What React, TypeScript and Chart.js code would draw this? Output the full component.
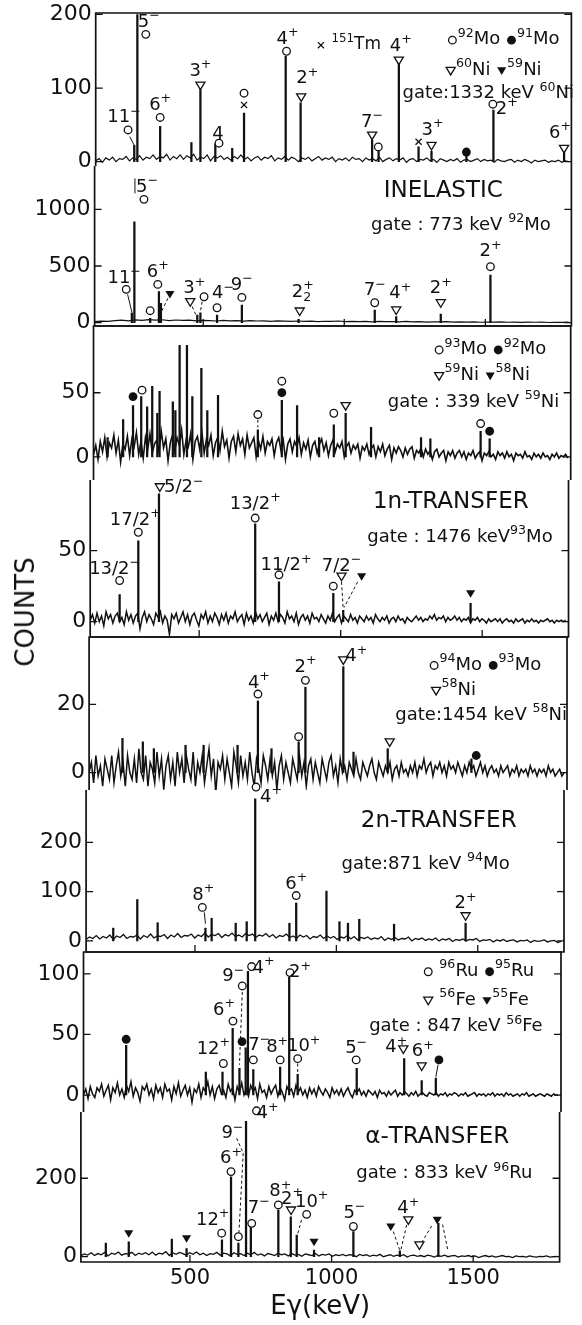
import React, { useEffect, useRef } from "react";
import { Chart, registerables } from "chart.js";

Chart.register(...registerables);

if (typeof document !== "undefined") document.body.style.margin = "0";

const FONT = '"DejaVu Sans", "Liberation Sans", sans-serif';
const INK = "#111";

// ---- energy axis -------------------------------------------------------
const E_MIN = 115;
const E_MAX = 1805;
const X_TICKS = [500, 1000, 1500];
const NOISE_E0 = 115;
const FINE_STEP = 8;
const MID_STEP = 12;
const COARSE_STEP = 24;

// ---- panel 1 : inelastic, gate 1332 keV 60Ni -----------------------------
const P1_Y_TICKS = [0, 100, 200];
const P1_NOISE = [1, 4, -1, 5, 2, 6, 0, 4, 3, 7, 1, 5, 3, 8, 2, 6, 4, 9, 3, 7, 5, 10, 2, 7, 4, 9, 3, 8, 5, 10, 2, 6, 4, 9, 1, 7, 5, 8, 3, 6, 2, 7, 4, 9, 3, 6, 1, 5, 7, 2, 6, 4, 8, 1, 5, 3, 7, 2, 6, 4, 0, 5, 3, 6, 1, 4, 7, 2, 5, 3, 6, 0, 4, 2, 5, 1, 6, 3, 4, 0, 5, 2, 4, 1, 6, 0, 3, 5, 1, 4, 2, 5, -1, 3, 4, 0, 3, 2, 5, 1, 3, -1, 4, 2, 0, 3, 1, 4, -1, 2, 3, 0, 2, 4, 0, 3, 1, 2, -1, 3, 1, 0, 2, 3, -1, 2, 0, 3, 1, -2, 2, 0, 1, 2, -1, 1, 0, 2, -1, 1, 0];
const P1_PEAK_E = [252, 263, 344, 455, 487, 540, 600, 642, 790, 843, 1097, 1120, 1192, 1262, 1308, 1432, 1528, 1779];
const P1_PEAK_H = [22, 200, 48, 26, 98, 24, 18, 66, 143, 80, 29, 16, 134, 20, 14, 10, 70, 12];

// ---- panel 2 : inelastic, gate 773 keV 92Mo ------------------------------
const P2_Y_TICKS = [0, 500, 1000];
const P2_NOISE = [10, 14, 12, 18, 22, 16, 25, 20, 28, 22, 26, 18, 24, 20, 23, 17, 21, 19, 15, 20, 16, 19, 14, 18, 15, 17, 12, 16, 14, 11, 15, 12, 14, 10, 13, 11, 15, 9, 12, 10, 11, 8, 12, 9, 10, 7, 11, 8, 9, 6, 8, 7, 9, 5, 8, 6, 7, 4, 6, 5, 7, 4, 6, 3, 5, 4, 6, 2, 4, 3, 5];
const P2_PEAK_E = [247, 256, 312, 343, 350, 479, 490, 549, 637, 838, 1108, 1184, 1342, 1518];
const P2_PEAK_H = [87, 890, 38, 274, 171, 68, 87, 68, 156, 30, 112, 53, 77, 421];

// ---- panel 3 : 1n-transfer, gate 339 keV 59Ni ----------------------------
const P3_Y_TICKS = [0, 50];
const P3_NOISE = [2, 9, -2, 12, 4, 15, 0, 11, 7, 17, 3, 13, -4, 10, 6, 16, 1, 14, 8, 19, 2, 12, -1, 15, 6, 18, 3, 10, 13, 4, 20, 7, 14, -3, 11, 17, 5, 15, 9, 21, 2, 13, 8, 18, -2, 12, 16, 6, 19, 3, 14, 9, 17, 1, 11, 15, 5, 20, 8, 13, -1, 12, 16, 4, 18, 9, 14, 2, 17, 7, 11, 15, 0, 13, 6, 16, 3, 12, 9, 14, 1, 11, 15, 5, 13, -2, 10, 14, 4, 12, 8, 15, 2, 11, 6, 13, 0, 9, 12, 3, 10, 14, 5, 11, 1, 9, 13, 4, 10, 7, 12, 0, 8, 11, 3, 9, 6, 10, -1, 8, 5, 10, 2, 7, 9, 0, 8, 4, 10, 1, 6, 9, -2, 7, 3, 8, 5, 0, 7, 2, 6, 8, -1, 5, 3, 7, 0, 6, 2, 5, -2, 4, 6, 0, 3, 5, -3, 4, 1, 5, -1, 3, 5, 0, 4, -2, 3, 1, 5, -1, 2, 4, -3, 3, 1, 4, 0, 2, -2, 4, 1, 3, -1, 4, 0, 2, -3, 3, 1, 2, -1, 4, 0, 1, -2, 3, 0, 2, -1, 3, 0, 1, -2, 2, 0, 3, -1, 1, 0, 2, -1];
const P3_PEAK_E = [165, 220, 255, 284, 305, 323, 341, 349, 396, 405, 420, 446, 465, 497, 518, 556, 697, 782, 836, 914, 966, 1008, 1098, 1275, 1308, 1486, 1518];
const P3_PEAK_H = [15, 29, 40, 47, 39, 55, 34, 51, 43, 36, 87, 87, 47, 69, 36, 48, 21, 44, 40, 15, 25, 34, 23, 15, 14, 20, 14];

// ---- panel 4 : 1n-transfer, gate 1476 keV 93Mo ---------------------------
const P4_Y_TICKS = [0, 50];
const P4_NOISE = [1, 5, -1, 6, 0, 4, -3, 7, 2, 5, -1, 4, 6, 0, 3, -2, 7, 1, 5, -1, 4, 6, -5, 3, 7, 0, 5, 2, -2, 6, 3, 7, -1, 4, 1, -9, 5, 2, 6, -1, 3, 7, 0, 5, -2, 4, 6, 1, -3, 5, 2, 7, -1, 4, 0, 6, 3, -2, 5, 1, 6, -1, 4, 2, 7, 0, 3, 5, -2, 6, 1, 4, -1, 7, 2, 5, 0, 3, 6, -2, 4, 1, 6, 0, 5, 3, -1, 7, 2, 4, 0, 6, -2, 3, 5, 1, 4, -1, 6, 2, 3, 0, 5, 2, -1, 4, 1, 6, 0, 3, 5, -1, 4, 2, 0, 5, 1, 3, -1, 4, 2, 0, 4, 1, 3, -1, 5, 2, 0, 3, 1, 4, -1, 2, 3, 0, 4, 1, 2, -1, 3, 1, 0, 2, 4, 1, 3, 0, 2, 1, 4, 2, 5, 1, 3, 2, 4, 0, 3, 1, 2, 4, 1, 3, 0, 2, 1, 3, -1, 2, 1, 3, 0, 2, 1, -1, 2, 0, 1, 2, 0, 2, -1, 1, 2, 0, 1, -1, 2, 0, 1, 2, -1, 1, 0, 2, 0, 1, -1, 1, 0, 1, 2, 0, 1, -1, 1, 0, 1, 0, 1];
const P4_PEAK_E = [219, 285, 358, 698, 782, 974, 1009, 1459];
const P4_PEAK_H = [19, 57, 90, 69, 28, 20, 8, 13];

// ---- panel 5 : 2n-transfer, gate 1454 keV 58Ni ---------------------------
const P5_Y_TICKS = [0, 20];
const P5_NOISE = [0, 3, -3, 5, -1, 2, -4, 4, 1, -2, 5, -3, 2, 6, -1, 3, -4, 5, 0, -2, 4, -3, 7, 0, -2, 5, -4, 3, 1, -3, 6, -1, 4, -5, 2, 5, -2, 3, -4, 6, 0, 4, -3, 5, 1, -2, 6, -4, 3, 0, 5, -3, 2, 7, -1, 4, -6, 3, 1, 5, -2, 4, 0, -4, 6, 2, -3, 5, -1, 3, -2, 6, 0, -4, 4, 1, -3, 5, 2, -2, 4, -1, 3, -5, 2, 5, -2, 3, 0, -3, 4, 1, -2, 5, -1, 3, -4, 2, 4, -2, 3, 0, -3, 4, 1, -2, 3, 5, -1, 2, -3, 4, 0, 2, -2, 3, 1, -1, 4, 0, -2, 3, 1, -1, 2, 4, 0, -2, 3, 1, -1, 2, 0, 3, -2, 1, 2, -1, 3, 0, 1, -1, 2, 0, 3, -1, 2, 1, 4, 0, 2, 3, -1, 2, 1, 3, 0, 2, -1, 3, 1, 2, 0, 3, 1, -1, 2, 0, 3, 1, 2, -1, 1, 3, 0, 2, -1, 1, 2, 0, 1, -1, 2, 0, 1, 2, -1, 1, 0, 2, -1, 1, 0, 1, -1, 2, 0, 1, -1, 1, 0, 1, -1, 2, 0, 1, -1, 0, 1, -1, 0];
const P5_PEAK_E = [233, 305, 344, 456, 520, 640, 712, 760, 856, 880, 1014, 1050, 1171, 1467];
const P5_PEAK_H = [10, 9, 7, 8, 8, 8, 21, 7, 9, 25, 31, 6, 7, 4];

// ---- panel 6 : 2n-transfer, gate 871 keV 94Mo ----------------------------
const P6_Y_TICKS = [0, 100, 200];
const P6_NOISE = [3, 8, 5, 11, 4, 9, 6, 12, 3, 10, 7, 13, 5, 9, 8, 12, 4, 11, 7, 14, 6, 10, 9, 13, 5, 12, 8, 15, 7, 11, 10, 14, 6, 12, 9, 16, 8, 13, 11, 15, 7, 13, 10, 16, 9, 12, 8, 15, 11, 14, 7, 12, 10, 15, 8, 13, 6, 11, 9, 14, 7, 10, 5, 12, 8, 11, 4, 9, 7, 12, 5, 10, 6, 9, 3, 8, 6, 11, 4, 9, 2, 7, 5, 8, 3, 6, 4, 9, 1, 6, 3, 7, 2, 5, 4, 8, 0, 5, 3, 6, 1, 4, 2, 6, 0, 4, 2, 5, -1, 3, 1, 4, 0, 3, 2, 5, -1, 2, 1, 3, -2, 2, 0, 3, -1, 1, 2, -2, 1, 0, 2, -3, 1, -1, 0, 2, -2, 0, 1, -3, -1];
const P6_PEAK_E = [211, 296, 368, 537, 559, 644, 683, 713, 834, 858, 965, 1011, 1041, 1081, 1204, 1457];
const P6_PEAK_H = [26, 84, 37, 26, 46, 36, 39, 288, 36, 77, 101, 39, 36, 44, 34, 36];

// ---- panel 7 : alpha-transfer, gate 847 keV 56Fe -------------------------
const P7_Y_TICKS = [0, 50, 100];
const P7_NOISE = [0, 5, -3, 7, 1, -2, 6, 3, 9, -1, 4, 8, -4, 6, 2, 10, 0, 5, -2, 8, 3, 11, -1, 6, 2, -5, 7, 4, 9, 0, 5, -3, 8, 2, 6, -2, 9, 3, 5, -4, 7, 1, 10, -1, 4, 8, 0, 6, -6, 5, 2, 9, -2, 6, 3, 11, 0, 7, -3, 5, 8, 1, 4, -2, 9, 3, 6, -4, 7, 2, 10, 0, 5, -1, 8, 3, 6, -3, 9, 2, 4, -2, 7, 1, 5, 8, -1, 6, 2, -4, 7, 3, 5, -1, 8, 2, 6, 0, 4, -2, 6, 1, 5, -1, 7, 3, 0, 5, 2, -2, 6, 1, 4, 0, 5, -1, 3, 6, 1, -2, 4, 2, 5, 0, 3, -1, 4, 2, 0, 3, -2, 4, 1, 2, -1, 3, 0, 2, 4, -1, 2, 0, 3, 1, -1, 2, 0, 3, -1, 1, 2, 0, -1, 2, 1, 0, 2, -1, 1, 0, 2, -1, 1, 0, 2, 1, -1, 1, 0, 2, -1, 0, 1, 2, -1, 1, 0, 1, -1, 1, 0, 2, -1, 1, 0, 1, -1, 2, 0, 1, -1, 0, 1, -1, 1, 0, 2, -1, 0, 1, -1, 0, 1, 0, -1, 1, 0, -1, 1, 0, 0];
const P7_PEAK_E = [266, 548, 607, 643, 667, 689, 697, 716, 811, 843, 873, 1082, 1250, 1312, 1362];
const P7_PEAK_H = [41, 19, 19, 55, 22, 39, 102, 21, 23, 97, 17, 22, 30, 12, 14];

// ---- panel 8 : alpha-transfer, gate 833 keV 96Ru -------------------------
const P8_Y_TICKS = [0, 200];
const P8_NOISE = [2, 7, 4, 10, 3, 8, 5, 11, 2, 9, 6, 12, 4, 8, 7, 11, 3, 9, 6, 10, 5, 12, 4, 9, 7, 13, 3, 10, 6, 11, 8, 4, 10, 6, 12, 5, 9, 3, 8, 6, 11, 4, 9, 7, 2, 10, 6, 8, 3, 9, 5, 11, 4, 7, 2, 8, 6, 3, 9, 5, 7, 2, 8, 4, 6, 1, 7, 5, 3, 8, 2, 6, 4, 7, 1, 5, 3, 6, 2, 5, 4, 0, 6, 3, 5, 1, 4, 2, 6, 0, 3, 5, 1, 4, 2, 5, -1, 3, 4, 1, 3, 0, 4, 2, -1, 3, 1, 4, 0, 2, 3, -1, 2, 1, 3, 0, 2, -2, 1, 3, 0, 2, -1, 1, 3, 0, 1, -2, 2, 0, 1, -1, 2, 0, -1, 1, 0, 2, -1, 0, 1];
const P8_PEAK_E = [203, 284, 436, 488, 613, 645, 671, 698, 715, 812, 856, 877, 938, 1077, 1241, 1377];
const P8_PEAK_H = [35, 38, 45, 21, 43, 204, 35, 345, 81, 119, 102, 55, 17, 64, 15, 85];

// ---- annotations (marker at energy/counts, label offset in px) -----------
const P1_MARKS = [
  { e: 230, v: 43, m: "○", t: "11^−", dx: -4, dy: -14 },
  { e: 293, v: 173, m: "○", t: "5^−", dx: 3, dy: -14 },
  { e: 344, v: 60, m: "○", t: "6^+", dx: 0, dy: -14 },
  { e: 487, v: 104, m: "▽", t: "3^+", dx: 0, dy: -16 },
  { e: 553, v: 25, m: "○", t: "4", dx: -1, dy: -11 },
  { e: 642, v: 93, m: "○" },
  { e: 642, v: 77, m: "×" },
  { e: 793, v: 150, m: "○", t: "4^+", dx: 1, dy: -14 },
  { e: 845, v: 88, m: "▽", t: "2^+", dx: 6, dy: -20 },
  { e: 1097, v: 36, m: "▽", t: "7^−", dx: 0, dy: -15 },
  { e: 1119, v: 20, m: "○" },
  { e: 1192, v: 138, m: "▽", t: "4^+", dx: 2, dy: -16 },
  { e: 1262, v: 27, m: "×" },
  { e: 1308, v: 22, m: "▽", t: "3^+", dx: 1, dy: -17 },
  { e: 1432, v: 13, m: "●" },
  { e: 1526, v: 78, m: "○", t: "2^+", dx: 14, dy: 3 },
  { e: 1779, v: 18, m: "▽", t: "6^+", dx: -4, dy: -17 },
];
const P1_LEADERS = [{ e1: 236, v1: 34, e2: 252, v2: 22 }];
const P1_TEXTS = [
  { e: 897, v: 161, t: "× ^{151}Tm", s: 17 },
  { e: 1363, v: 168, t: "○^{92}Mo ●^{91}Mo" },
  { e: 1357, v: 127, t: "▽^{60}Ni ▼^{59}Ni" },
  { e: 1205, v: 95, t: "gate:1332 keV ^{60}Ni" },
];

const P2_MARKS = [
  { e: 227, v: 294, m: "○", t: "11^−", dx: -2, dy: -13 },
  { e: 290, v: 1088, m: "○", t: "5^−", dx: 3, dy: -14 },
  { e: 312, v: 106, m: "○" },
  { e: 339, v: 338, m: "○", t: "6^+", dx: 0, dy: -14 },
  { e: 382, v: 253, m: "▼" },
  { e: 454, v: 185, m: "▽", t: "3^+", dx: 4, dy: -15 },
  { e: 503, v: 229, m: "○" },
  { e: 549, v: 132, m: "○", t: "4^−", dx: 6, dy: -16 },
  { e: 637, v: 223, m: "○", t: "9^−", dx: 0, dy: -14 },
  { e: 842, v: 103, m: "▽", t: "2^+_2", dx: 3, dy: -21 },
  { e: 1108, v: 176, m: "○", t: "7^−", dx: 0, dy: -14 },
  { e: 1184, v: 112, m: "▽", t: "4^+", dx: 4, dy: -18 },
  { e: 1342, v: 176, m: "▽", t: "2^+", dx: 0, dy: -16 },
  { e: 1518, v: 494, m: "○", t: "2^+", dx: 0, dy: -17 },
];
const P2_LEADERS = [
  { e1: 232, v1: 250, e2: 247, v2: 95 },
  { e1: 258, v1: 1141, e2: 258, v2: 1273 },
  { e1: 375, v1: 216, e2: 352, v2: 98, dash: true },
  { e1: 461, v1: 141, e2: 477, v2: 53, dash: true },
  { e1: 496, v1: 185, e2: 490, v2: 97, dash: true },
];
const P2_TEXTS = [
  { e: 1351, v: 1185, t: "INELASTIC", s: 23, a: "center" },
  { e: 1095, v: 876, t: "gate : 773 keV ^{92}Mo" },
];

const P3_MARKS = [
  { e: 255, v: 47, m: "●" },
  { e: 287, v: 52, m: "○" },
  { e: 697, v: 33, m: "○" },
  { e: 782, v: 59, m: "○" },
  { e: 782, v: 50, m: "●" },
  { e: 966, v: 34, m: "○" },
  { e: 1008, v: 40, m: "▽" },
  { e: 1486, v: 26, m: "○" },
  { e: 1518, v: 20, m: "●" },
];
const P3_LEADERS = [{ e1: 697, v1: 29, e2: 697, v2: 23, dash: true }];
const P3_TEXTS = [
  { e: 1320, v: 85, t: "○^{93}Mo ●^{92}Mo" },
  { e: 1320, v: 65, t: "▽^{59}Ni ▼^{58}Ni" },
  { e: 1157, v: 44, t: "gate : 339 keV ^{59}Ni" },
];

const P4_MARKS = [
  { e: 219, v: 29, m: "○", t: "13/2^−", dx: -5, dy: -13 },
  { e: 285, v: 63, m: "○", t: "17/2^+", dx: -3, dy: -14 },
  { e: 361, v: 95, m: "▽", t: "5/2^−", dx: 24, dy: -1 },
  { e: 698, v: 73, m: "○", t: "13/2^+", dx: 0, dy: -16 },
  { e: 782, v: 33, m: "○", t: "11/2^+", dx: 7, dy: -11 },
  { e: 974, v: 25, m: "○" },
  { e: 1003, v: 32, m: "▽", t: "7/2^−", dx: 0, dy: -12 },
  { e: 1074, v: 32, m: "▼" },
  { e: 1459, v: 20, m: "▼" },
];
const P4_LEADERS = [
  { e1: 1003, v1: 28, e2: 1009, v2: 9, dash: true },
  { e1: 1060, v1: 28, e2: 1012, v2: 10, dash: true },
];
const P4_TEXTS = [
  { e: 1389, v: 86, t: "1n-TRANSFER", s: 23, a: "center" },
  { e: 1094, v: 61, t: "gate : 1476 keV^{93}Mo" },
];

const P5_MARKS = [
  { e: 712, v: 23, m: "○", t: "4^+", dx: 1, dy: -13 },
  { e: 856, v: 10.5, m: "○" },
  { e: 880, v: 27, m: "○", t: "2^+", dx: 0, dy: -15 },
  { e: 1014, v: 33, m: "▽", t: "4^+", dx: 13, dy: -5 },
  { e: 1178, v: 9, m: "▽" },
  { e: 1484, v: 5, m: "●" },
];
const P5_TEXTS = [
  { e: 1316, v: 32, t: "○^{94}Mo ●^{93}Mo" },
  { e: 1323, v: 24.7, t: "▽^{58}Ni" },
  { e: 1198, v: 17.4, t: "gate:1454 keV ^{58}Ni" },
];

const P6_MARKS = [
  { e: 526, v: 68, m: "○", t: "8^+", dx: 1, dy: -14 },
  { e: 716, v: 312, m: "○", t: "4^+", dx: 15, dy: 8 },
  { e: 858, v: 92, m: "○", t: "6^+", dx: 0, dy: -13 },
  { e: 1457, v: 51, m: "▽", t: "2^+", dx: 0, dy: -14 },
];
const P6_LEADERS = [{ e1: 533, v1: 58, e2: 537, v2: 35 }];
const P6_TEXTS = [
  { e: 1362, v: 247, t: "2n-TRANSFER", s: 23, a: "center" },
  { e: 1018, v: 159, t: "gate:871 keV ^{94}Mo" },
];

const P7_MARKS = [
  { e: 266, v: 46, m: "●" },
  { e: 610, v: 26, m: "○", t: "12^+", dx: -10, dy: -16 },
  { e: 644, v: 61, m: "○", t: "6^+", dx: -9, dy: -13 },
  { e: 677, v: 90, m: "○", t: "9^−", dx: -9, dy: -11 },
  { e: 676, v: 44, m: "●" },
  { e: 710, v: 106, m: "○", t: "4^+", dx: 12, dy: 0 },
  { e: 716, v: 29, m: "○", t: "7^−", dx: 6, dy: -16 },
  { e: 811, v: 29, m: "○", t: "8^+", dx: -3, dy: -14 },
  { e: 846, v: 101, m: "○", t: "2^+", dx: 10, dy: -2 },
  { e: 873, v: 30, m: "○", t: "10^+", dx: 6, dy: -14 },
  { e: 1080, v: 29, m: "○", t: "5^−", dx: 0, dy: -13 },
  { e: 1247, v: 38, m: "▽", t: "4^+", dx: -7, dy: -3 },
  { e: 1312, v: 24, m: "▽", t: "6^+", dx: 1, dy: -16 },
  { e: 1373, v: 29, m: "●" },
];
const P7_LEADERS = [
  { e1: 677, v1: 85, e2: 667, v2: 25, dash: true },
  { e1: 873, v1: 26, e2: 873, v2: 17, dash: true },
  { e1: 1370, v1: 25, e2: 1362, v2: 15 },
];
const P7_TEXTS = [
  { e: 1316, v: 103.5, t: "○ ^{96}Ru ●^{95}Ru" },
  { e: 1316, v: 80, t: "▽ ^{56}Fe ▼^{55}Fe" },
  { e: 1126, v: 58, t: "gate : 847 keV ^{56}Fe" },
];

const P8_MARKS = [
  { e: 284, v: 60, m: "▼" },
  { e: 488, v: 47, m: "▼" },
  { e: 612, v: 60, m: "○", t: "12^+", dx: -9, dy: -15 },
  { e: 645, v: 217, m: "○", t: "6^+", dx: 0, dy: -15 },
  { e: 671, v: 51, m: "○", t: "9^−", dx: -6, dy: -105 },
  { e: 735, v: 372, m: "○", t: "4^+", dx: 11, dy: 1 },
  { e: 718, v: 85, m: "○", t: "7^−", dx: 7, dy: -17 },
  { e: 812, v: 132, m: "○", t: "8^+", dx: 2, dy: -15 },
  { e: 857, v: 119, m: "▽", t: "2^+", dx: 1, dy: -13 },
  { e: 912, v: 108, m: "○", t: "10^+", dx: 5, dy: -14 },
  { e: 938, v: 38, m: "▼" },
  { e: 1077, v: 77, m: "○", t: "5^−", dx: 1, dy: -15 },
  { e: 1209, v: 77, m: "▼" },
  { e: 1271, v: 94, m: "▽", t: "4^+", dx: 0, dy: -13 },
  { e: 1310, v: 30, m: "▽" },
  { e: 1373, v: 94, m: "▼" },
];
const P8_LEADERS = [
  { e1: 665, v1: 302, e2: 688, v2: 264, dash: true },
  { e1: 688, v1: 264, e2: 673, v2: 62, dash: true },
  { e1: 894, v1: 94, e2: 879, v2: 55, dash: true },
  { e1: 1218, v1: 64, e2: 1240, v2: 18, dash: true },
  { e1: 1265, v1: 81, e2: 1245, v2: 18, dash: true },
  { e1: 1318, v1: 36, e2: 1358, v2: 84, dash: true },
  { e1: 1392, v1: 82, e2: 1410, v2: 18, dash: true },
];
const P8_TEXTS = [
  { e: 1373, v: 310, t: "α-TRANSFER", s: 23, a: "center" },
  { e: 1087, v: 217, t: "gate : 833 keV ^{96}Ru" },
];

// ---- layout of the eight panels (page pixels) -----------------------------
const PANELS = [
  { id: 1, top: 13, bottom: 166, left: 95.7, right: 571.4, yMin: -6, yMax: 202, yTicks: P1_Y_TICKS, noise: P1_NOISE, step: MID_STEP, lw: 1.2, peakE: P1_PEAK_E, peakH: P1_PEAK_H, marks: P1_MARKS, leaders: P1_LEADERS, texts: P1_TEXTS, frameTop: true, frameBottom: false },
  { id: 2, top: 166, bottom: 326, left: 94.6, right: 571.4, yMin: -29, yMax: 1382, yTicks: P2_Y_TICKS, noise: P2_NOISE, step: COARSE_STEP, lw: 1.2, peakE: P2_PEAK_E, peakH: P2_PEAK_H, marks: P2_MARKS, leaders: P2_LEADERS, texts: P2_TEXTS, frameTop: false, frameBottom: true },
  { id: 3, top: 326, bottom: 480, left: 93.5, right: 570.7, yMin: -18, yMax: 102, yTicks: P3_Y_TICKS, noise: P3_NOISE, step: FINE_STEP, lw: 1.6, peakE: P3_PEAK_E, peakH: P3_PEAK_H, marks: P3_MARKS, leaders: P3_LEADERS, texts: P3_TEXTS, frameTop: true, frameBottom: false },
  { id: 4, top: 480, bottom: 637, left: 90.2, right: 568.5, yMin: -10.8, yMax: 99.8, yTicks: P4_Y_TICKS, noise: P4_NOISE, step: FINE_STEP, lw: 1.5, peakE: P4_PEAK_E, peakH: P4_PEAK_H, marks: P4_MARKS, leaders: P4_LEADERS, texts: P4_TEXTS, frameTop: false, frameBottom: true },
  { id: 5, top: 637, bottom: 790, left: 89.1, right: 567, yMin: -5.1, yMax: 39.7, yTicks: P5_Y_TICKS, noise: P5_NOISE, step: FINE_STEP, lw: 1.5, peakE: P5_PEAK_E, peakH: P5_PEAK_H, marks: P5_MARKS, leaders: [], texts: P5_TEXTS, frameTop: true, frameBottom: false },
  { id: 6, top: 790, bottom: 952, left: 86.1, right: 564, yMin: -22.4, yMax: 306, yTicks: P6_Y_TICKS, noise: P6_NOISE, step: MID_STEP, lw: 1.3, peakE: P6_PEAK_E, peakH: P6_PEAK_H, marks: P6_MARKS, leaders: P6_LEADERS, texts: P6_TEXTS, frameTop: false, frameBottom: true },
  { id: 7, top: 952, bottom: 1112, left: 83.5, right: 561, yMin: -14, yMax: 118, yTicks: P7_Y_TICKS, noise: P7_NOISE, step: FINE_STEP, lw: 1.5, peakE: P7_PEAK_E, peakH: P7_PEAK_H, marks: P7_MARKS, leaders: P7_LEADERS, texts: P7_TEXTS, frameTop: true, frameBottom: false },
  { id: 8, top: 1112, bottom: 1262, left: 80.9, right: 559.6, yMin: -13.5, yMax: 369, yTicks: P8_Y_TICKS, noise: P8_NOISE, step: MID_STEP, lw: 1.3, peakE: P8_PEAK_E, peakH: P8_PEAK_H, marks: P8_MARKS, leaders: P8_LEADERS, texts: P8_TEXTS, frameTop: false, frameBottom: true },
];

const PAGE_W = 582;
const PAGE_H = 1325;
const PAD_T = 34;
const PAD_B = 18;

// ---- drawing helpers --------------------------------------------------------
const MARK_GLYPHS = "○●▽▼×";

function parseRich(s: string) {
  const segs: { t: string; k: string }[] = [];
  let buf = "";
  const flush = () => {
    if (buf) segs.push({ t: buf, k: "n" });
    buf = "";
  };
  let i = 0;
  while (i < s.length) {
    const c = s[i];
    if (c === "^" || c === "_") {
      flush();
      let txt = "";
      if (s[i + 1] === "{") {
        const j = s.indexOf("}", i + 2);
        txt = s.slice(i + 2, j);
        i = j + 1;
      } else {
        txt = s[i + 1];
        i += 2;
      }
      segs.push({ t: txt, k: c === "^" ? "sup" : "sub" });
    } else if (MARK_GLYPHS.includes(c)) {
      flush();
      segs.push({ t: c, k: "mark" });
      i++;
    } else {
      buf += c;
      i++;
    }
  }
  flush();
  return segs;
}

function drawMark(ctx: CanvasRenderingContext2D, m: string, x: number, y: number, r = 3.8) {
  ctx.save();
  ctx.lineWidth = 1.3;
  ctx.strokeStyle = INK;
  ctx.fillStyle = INK;
  ctx.beginPath();
  if (m === "○") {
    ctx.arc(x, y, r, 0, Math.PI * 2);
    ctx.fillStyle = "#fff";
    ctx.fill();
    ctx.stroke();
  } else if (m === "●") {
    ctx.arc(x, y, r + 0.6, 0, Math.PI * 2);
    ctx.fill();
  } else if (m === "▽" || m === "▼") {
    const h = r * 1.2;
    ctx.moveTo(x - h, y - r * 0.8);
    ctx.lineTo(x + h, y - r * 0.8);
    ctx.lineTo(x, y + r * 1.2);
    ctx.closePath();
    if (m === "▼") ctx.fill();
    else {
      ctx.fillStyle = "#fff";
      ctx.fill();
      ctx.stroke();
    }
  } else if (m === "×") {
    const d = r * 0.8;
    ctx.moveTo(x - d, y - d);
    ctx.lineTo(x + d, y + d);
    ctx.moveTo(x + d, y - d);
    ctx.lineTo(x - d, y + d);
    ctx.stroke();
  }
  ctx.restore();
}

function drawRich(ctx: CanvasRenderingContext2D, s: string, x: number, y: number, size: number, align: string) {
  const segs = parseRich(s);
  const small = size * 0.7;
  const items: any[] = [];
  let w = 0;
  let prevSup: any = null;
  for (const seg of segs) {
    if (seg.k === "mark") {
      const adv = size * 0.6;
      items.push({ seg, x: w, w: adv });
      w += adv;
      prevSup = null;
      continue;
    }
    const fs = seg.k === "n" ? size : small;
    ctx.font = `${fs}px ${FONT}`;
    const mw = ctx.measureText(seg.t).width;
    if (seg.k === "sub" && prevSup) {
      items.push({ seg, x: prevSup.x, w: mw });
      w = Math.max(w, prevSup.x + mw);
      prevSup = null;
      continue;
    }
    const it = { seg, x: w, w: mw };
    items.push(it);
    w += mw;
    prevSup = seg.k === "sup" ? it : null;
  }
  const x0 = align === "center" ? x - w / 2 : align === "right" ? x - w : x;
  const base = y + size * 0.36;
  ctx.save();
  ctx.fillStyle = INK;
  ctx.textAlign = "left";
  ctx.textBaseline = "alphabetic";
  for (const it of items) {
    const k = it.seg.k;
    if (k === "mark") {
      drawMark(ctx, it.seg.t, x0 + it.x + it.w / 2, y + size * 0.12, 3.8);
      continue;
    }
    const fs = k === "n" ? size : small;
    ctx.font = `${fs}px ${FONT}`;
    const by = k === "sup" ? base - size * 0.42 : k === "sub" ? base + size * 0.24 : base;
    ctx.fillText(it.seg.t, x0 + it.x, by);
  }
  ctx.restore();
}

function makeOverlay(cfg: any) {
  return {
    id: "overlay" + cfg.id,
    afterDraw(chart: any) {
      const { ctx, chartArea: a, scales } = chart;
      const px = (e: number) => scales.x.getPixelForValue(e);
      const py = (v: number) => scales.y.getPixelForValue(v);
      ctx.save();
      ctx.strokeStyle = INK;
      ctx.lineCap = "butt";
      // frame
      ctx.lineWidth = 1.7;
      ctx.beginPath();
      ctx.moveTo(a.left, a.top);
      ctx.lineTo(a.left, a.bottom);
      ctx.moveTo(a.right, a.top);
      ctx.lineTo(a.right, a.bottom);
      if (cfg.frameTop) {
        ctx.moveTo(a.left - 0.8, a.top);
        ctx.lineTo(a.right + 0.8, a.top);
      }
      if (cfg.frameBottom) {
        ctx.moveTo(a.left - 0.8, a.bottom);
        ctx.lineTo(a.right + 0.8, a.bottom);
      }
      ctx.stroke();
      // tick marks
      ctx.lineWidth = 1.3;
      ctx.beginPath();
      for (const v of cfg.yTicks) {
        const y = py(v);
        ctx.moveTo(a.left, y);
        ctx.lineTo(a.left + 7, y);
        ctx.moveTo(a.right, y);
        ctx.lineTo(a.right - 7, y);
      }
      if (cfg.frameBottom) {
        for (const e of X_TICKS) {
          const x = px(e);
          ctx.moveTo(x, a.bottom);
          ctx.lineTo(x, a.bottom - 7);
        }
      }
      ctx.stroke();
      // leader lines
      for (const l of cfg.leaders) {
        ctx.save();
        ctx.lineWidth = 1;
        ctx.setLineDash(l.dash ? [3, 2.5] : []);
        ctx.beginPath();
        ctx.moveTo(px(l.e1), py(l.v1));
        ctx.lineTo(px(l.e2), py(l.v2));
        ctx.stroke();
        ctx.restore();
      }
      // markers and level labels
      for (const mk of cfg.marks) {
        const x = px(mk.e);
        const y = py(mk.v);
        drawMark(ctx, mk.m, x, y);
        if (mk.t) drawRich(ctx, mk.t, x + (mk.dx || 0), y + (mk.dy || 0), 18, "center");
      }
      // legends, titles, gates
      for (const tx of cfg.texts) {
        drawRich(ctx, tx.t, px(tx.e), py(tx.v), tx.s || 18, tx.a || "left");
      }
      ctx.restore();
    },
  };
}

function Panel({ cfg, last }: { cfg: any; last: boolean }) {
  const ref = useRef<HTMLCanvasElement>(null);
  const canvasTop = cfg.top - PAD_T;
  const height = last ? PAGE_H - canvasTop : cfg.bottom - canvasTop + PAD_B;
  const axisH = PAGE_H - cfg.bottom;

  useEffect(() => {
    const noisePts = cfg.noise.map((v: number, i: number) => ({ x: NOISE_E0 + i * cfg.step, y: v }));
    const peakPts = cfg.peakE.map((e: number, i: number) => ({ x: e, y: cfg.peakH[i] }));
    const chart = new Chart(ref.current as HTMLCanvasElement, {
      type: "line",
      data: {
        datasets: [
          { type: "line", data: noisePts, borderColor: INK, borderWidth: cfg.lw, pointRadius: 0, tension: 0, order: 2 } as any,
          { type: "bar", data: peakPts, backgroundColor: INK, borderWidth: 0, barThickness: 1.6, order: 1 } as any,
        ],
      },
      options: {
        responsive: false,
        animation: false,
        events: [],
        layout: { padding: { left: 0, right: PAGE_W - cfg.right, top: PAD_T, bottom: last ? 0 : PAD_B } },
        plugins: { legend: { display: false }, tooltip: { enabled: false }, title: { display: false } },
        scales: {
          x: {
            type: "linear",
            min: E_MIN,
            max: E_MAX,
            offset: false,
            display: last,
            grid: { display: false, drawTicks: false },
            border: { display: false },
            ticks: { font: { family: FONT, size: 21 }, color: INK, padding: 4, maxRotation: 0, callback: (v: any) => String(v) },
            title: { display: true, text: "Eγ(keV)", font: { family: FONT, size: 26 }, color: INK, padding: { top: 0, bottom: 2 } },
            afterBuildTicks: (s: any) => {
              s.ticks = X_TICKS.map((v) => ({ value: v }));
            },
            afterFit: (s: any) => {
              if (last) s.height = axisH;
            },
          },
          y: {
            type: "linear",
            min: cfg.yMin,
            max: cfg.yMax,
            grid: { display: false, drawTicks: false },
            border: { display: false },
            ticks: { font: { family: FONT, size: 22 }, color: INK, padding: 4, callback: (v: any) => String(v) },
            afterBuildTicks: (s: any) => {
              s.ticks = cfg.yTicks.map((v: number) => ({ value: v }));
            },
            afterFit: (s: any) => {
              s.width = cfg.left;
            },
          },
        },
      } as any,
      plugins: [makeOverlay(cfg)],
    });
    return () => chart.destroy();
  }, []);

  return (
    <canvas
      ref={ref}
      width={PAGE_W}
      height={height}
      style={{ position: "absolute", left: 0, top: canvasTop, width: PAGE_W, height }}
    />
  );
}

export default function App() {
  return (
    <div style={{ position: "relative", width: PAGE_W, height: PAGE_H, overflow: "hidden", background: "#fff" }}>
      {PANELS.map((p, i) => (
        <Panel key={p.id} cfg={p} last={i === PANELS.length - 1} />
      ))}
      <div
        style={{
          position: "absolute",
          left: 25,
          top: 612,
          transform: "translate(-50%, -50%) rotate(-90deg)",
          font: `26px ${FONT}`,
          color: INK,
          whiteSpace: "nowrap",
          lineHeight: 1,
        }}
      >
        COUNTS
      </div>
    </div>
  );
}
